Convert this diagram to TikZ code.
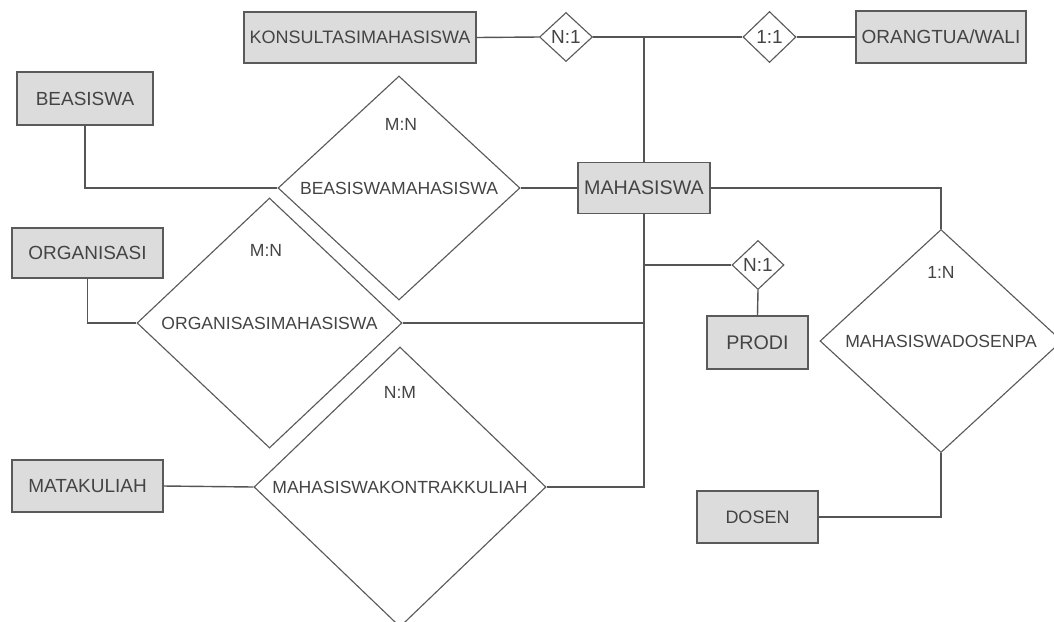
\documentclass[tikz,border=0pt]{standalone}
\usepackage{fontspec}
\setmainfont{Liberation Sans}
\usetikzlibrary{shapes.geometric,calc}
\definecolor{boxgray}{HTML}{DCDCDC}
\definecolor{edgegray}{HTML}{5A5A5A}
\definecolor{linegray}{HTML}{555555}
\definecolor{txtgray}{HTML}{444444}
\begin{document}
\begin{tikzpicture}[x=0.025cm,y=-0.025cm,
  every node/.style={font=\fontsize{12.5}{14}\selectfont, text=txtgray},
  entity/.style={draw=edgegray, fill=boxgray, line width=1.1pt, inner sep=0pt,
     font=\fontsize{13.5}{15}\selectfont, minimum width={#1*0.025cm}},
  entity/.default=100,
  rel/.style 2 args={diamond, draw=edgegray, fill=white, line width=0.8pt, inner sep=0pt,
     minimum width={#1*0.025cm}, minimum height={#2*0.025cm}},
  small/.style={font=\fontsize{13.5}{15}\selectfont},
  conn/.style={draw=linegray, line width=1pt},
  card/.style={inner sep=0pt}]
\useasboundingbox (0,0) rectangle (1054,621);

% entities
\node[entity=232, minimum height={51*0.025cm}, font=\fontsize{12.8}{14}\selectfont] (kons) at (360,37.5) {KONSULTASIMAHASISWA};
\node[entity=170, minimum height={52*0.025cm}] (ortu) at (941,37) {ORANGTUA/WALI};
\node[entity=136, minimum height={53*0.025cm}] (beas) at (85,98.5) {BEASISWA};
\node[entity=132, minimum height={51*0.025cm}, font=\fontsize{14}{16}\selectfont] (mhs) at (644,188) {MAHASISWA};
\node[entity=151, minimum height={50*0.025cm}] (org) at (87.5,253) {ORGANISASI};
\node[entity=101, minimum height={53*0.025cm}, font=\fontsize{14}{16}\selectfont] (prodi) at (757.5,342.5) {PRODI};
\node[entity=151, minimum height={52*0.025cm}] (mk) at (87.5,486) {MATAKULIAH};
\node[entity=121, minimum height={52*0.025cm}, font=\fontsize{12.8}{14}\selectfont] (dosen) at (757.5,517) {DOSEN};

% relationships
\node[rel={53}{49}, small] (n1a) at (566,37) {N:1};
\node[rel={53}{51}, small] (d11) at (769.5,37) {1:1};
\node[rel={52}{49}, small] (n1b) at (758,265) {N:1};
\node[rel={242}{224}, label={[name=bmt]center:BEASISWAMAHASISWA}] (bm) at (399,188) {};
\node[rel={265}{250}, label={[name=omt]center:ORGANISASIMAHASISWA}] (om) at (269.5,323) {};
\node[rel={292}{280}, label={[name=mkkt]center:MAHASISWAKONTRAKKULIAH}] (mkk) at (400,487) {};
\node[rel={242}{223}, label={[name=mdpt]center:MAHASISWADOSENPA}] (mdp) at (941,341) {};

% cardinalities
\node[card] (cbm) at (401,124) {M:N};
\node[card] (com) at (266,250) {M:N};
\node[card] (cmkk) at (400,392) {N:M};
\node[card] (cmdp) at (941,272) {1:N};

% connectors
\draw[conn] (kons.east) -- (n1a.west);
\draw[conn] (n1a.east) -- (d11.west);
\draw[conn] (d11.east) -- (ortu.west);
\draw[conn] (mhs.north) -- (mhs.north |- n1a.east);
\draw[conn] (beas.south) |- (bm.west);
\draw[conn] (bm.east) -- (mhs.west);
\draw[conn] (mhs.east) -| (mdp.north);
\draw[conn] (mhs.south) -- (mhs.south |- mkk.east) -- (mkk.east);
\draw[conn] (mhs.south |- n1b.west) -- (n1b.west);
\draw[conn] (om.east) -- (om.east -| mhs.south);
\draw[conn] (org.south) |- (om.west);
\draw[conn] (mk.east) -- (mkk.west);
\draw[conn] (n1b.south) -- (prodi.north);
\draw[conn] (dosen.east) -| (mdp.south);
\end{tikzpicture}
\end{document}
